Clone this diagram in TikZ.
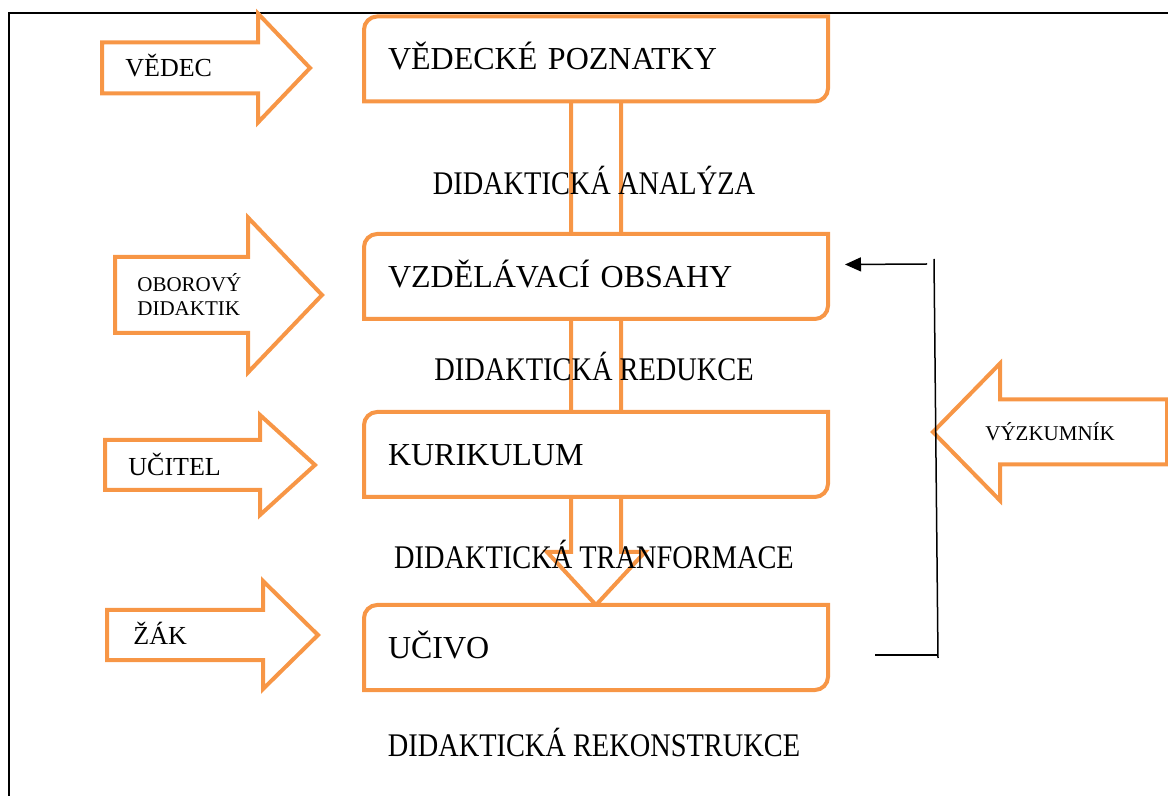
\documentclass[tikz,border=0pt]{standalone}
\usepackage{fontspec}
\setmainfont{Liberation Serif}
\newfontfamily\stepfont[FakeStretch=0.86]{Liberation Serif}
\usetikzlibrary{calc,arrows.meta}
\definecolor{accent}{HTML}{F79646}
\tikzset{block/.style={draw=accent, line width=2pt},
  box/.style={fill=white, draw=none, outer sep=0pt, inner xsep=12pt, inner ysep=0pt,
     text width=208pt, minimum height=42.5pt, align=left,
     font=\fontsize{16}{19}\selectfont, text height=10.6pt, text depth=0pt},
  who/.style={anchor=west, inner sep=0pt, font=\fontsize{13}{15}\selectfont,
     text height=8.6pt, text depth=0pt},
  small who/.style={anchor=west, inner sep=0pt, align=left,
     font=\fontsize{10.5}{12}\selectfont},
  step label/.style={inner sep=0pt, font=\stepfont\fontsize{16.5}{19}\selectfont,
     text height=11pt, text depth=0pt},
  feedback/.style={draw=black, line width=0.75pt}
}
% polygon of a block arrow: end x, mid y, half shaft, head x, half head, tip x
\def\BlockArrow#1#2#3#4#5#6{%
 \draw[block] (#1,#2-#3) -- (#4,#2-#3) -- (#4,#2-#5) -- (#6,#2)
   -- (#4,#2+#5) -- (#4,#2+#3) -- (#1,#2+#3) -- cycle;
}
% down arrow between two boxes: upper, lower, head base and tip (from lower.north)
\def\DownBlock#1#2#3#4{%
 \draw[block] ($(#1.south)+(-25,0)$) -- ($(#2.north)+(-25,#3)$) -- ($(#2.north)+(-49,#3)$)
   -- ($(#2.north)+(0,#4)$) -- ($(#2.north)+(49,#3)$) -- ($(#2.north)+(25,#3)$)
   -- ($(#1.south)+(25,0)$);
}
% box with two rounded corners (top left, bottom right)
\def\DiagBox#1{%
 \draw[block] (#1.south west) -- ($(#1.north west)+(0,13)$)
   .. controls ($(#1.north west)+(0,6)$) and ($(#1.north west)+(6,0)$) .. ($(#1.north west)+(13,0)$)
   -- (#1.north east) -- ($(#1.south east)+(0,-13)$)
   .. controls ($(#1.south east)+(0,-6)$) and ($(#1.south east)+(-6,0)$) .. ($(#1.south east)+(-13,0)$)
   -- cycle;
}

\begin{document}
\begin{tikzpicture}[x=0.5pt, y=-0.5pt]
\useasboundingbox (0,0) rectangle (1168,796);
\draw[line width=1pt] (1168,13) -- (9,13) -- (9,796);

\node[box] (b1) at (596,59) {};
\node[box] (b2) at (596,276.5) {};
\node[box] (b3) at (596,454.5) {};
\node[box] (b4) at (596,647.5) {};
\DownBlock{b1}{b2}{20}{60}
\DownBlock{b2}{b3}{20}{60}
\DownBlock{b3}{b4}{-53}{0}

\node[box] (poznatky) at (b1) {VĚDECKÉ POZNATKY};
\node[box] (obsahy) at (b2) {VZDĚLÁVACÍ OBSAHY};
\node[box] (kurikulum) at (b3) {KURIKULUM};
\node[box] (ucivo) at (b4) {UČIVO};
\DiagBox{poznatky}
\DiagBox{obsahy}
\DiagBox{kurikulum}
\DiagBox{ucivo}

\node[step label] (analyza) at (594,184) {DIDAKTICKÁ ANALÝZA};
\node[step label] (redukce) at (594,370) {DIDAKTICKÁ REDUKCE};
\node[step label] (transformace) at (594,557) {DIDAKTICKÁ TRANFORMACE};
\node[step label] (rekonstrukce) at (594,745) {DIDAKTICKÁ REKONSTRUKCE};

\BlockArrow{102}{68}{25.5}{258}{54.5}{310}
\BlockArrow{115}{295}{38}{248}{77.5}{322}
\BlockArrow{105}{465}{25}{260}{50}{315}
\BlockArrow{107}{635}{25}{263}{54}{318}
\BlockArrow{1167}{432}{32.5}{1000}{68.5}{933}
\node[who] (vedec) at (125,68) {VĚDEC};
\node[small who] (didaktik) at (137,295) {OBOROVÝ\\DIDAKTIK};
\node[who] (ucitel) at (128,467) {UČITEL};
\node[who] (zak) at (133,636) {ŽÁK};
\node[small who] (vyzkumnik) at (985,432) {VÝZKUMNÍK};

% feedback from the researcher
\coordinate (fbtop) at (934,259);
\coordinate (fbbot) at (938,658);
\coordinate (fbleft) at (875,655);
\coordinate (fbarr) at (927,264);
\draw[feedback] (fbtop) -- (fbbot);
\draw[feedback] (fbleft) -- (fbleft -| fbbot);
\draw[feedback,-{Triangle[length=8pt,width=7pt]}] (fbarr) -- ([xshift=8.5pt,yshift=6pt]obsahy.east);
\end{tikzpicture}
\end{document}
